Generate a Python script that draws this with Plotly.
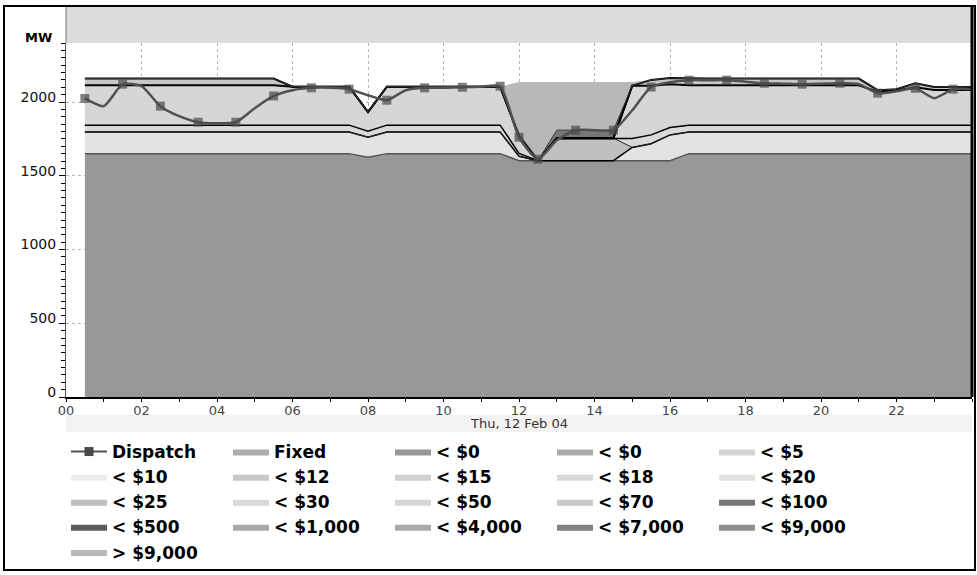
import plotly.graph_objects as go

# ---------------- data ----------------
hours = [0.5, 1.0, 1.5, 2.0, 2.5, 3.0, 3.5, 4.0, 4.5, 5.0, 5.5, 6.0,
         6.5, 7.0, 7.5, 8.0, 8.5, 9.0, 9.5, 10.0, 10.5, 11.0, 11.5, 12.0,
         12.5, 13.0, 13.5, 14.0, 14.5, 15.0, 15.5, 16.0, 16.5, 17.0, 17.5, 18.0,
         18.5, 19.0, 19.5, 20.0, 20.5, 21.0, 21.5, 22.0, 22.5, 23.0, 23.5, 24.0]

dispatch = [2024, 1972, 2121, 2107, 1972, 1904, 1863, 1856, 1863, 1958, 2041, 2080,
            2096, 2097, 2087, 2046, 2012, 2080, 2096, 2097, 2100, 2104, 2107, 1761,
            1612, 1741, 1809, 1809, 1809, 1944, 2102, 2134, 2148, 2148, 2148, 2138,
            2127, 2124, 2121, 2124, 2127, 2121, 2060, 2073, 2093, 2026, 2087, 2087]

marker_hours = [0.5, 1.5, 2.5, 3.5, 4.5, 5.5, 6.5, 7.5, 8.5, 9.5, 10.5, 11.5,
                12.0, 12.5, 13.5, 14.5, 15.5, 16.5, 17.5, 18.5, 19.5, 20.5,
                21.5, 22.5, 23.5]

zero = [0] * 48
fixed = zero
lt0_a = [1650] * 15 + [1626] + [1650] * 7 + [1602] * 9 + [1650] * 16
lt0_b = zero
lt5 = zero
lt10 = zero
lt12 = zero
lt15 = zero
lt18 = zero
lt20 = [147] * 15 + [135] + [147] * 7 + [30] + [0] * 5 + [90, 115, 175] + [147] * 16
lt25 = [0] * 25 + [153] * 4 + [0] * 19
lt30 = [46] * 15 + [41] + [46] * 7 + [20] + [0] * 5 + [60, 60, 50] + [46] * 16
lt50 = ([271] * 11 + [261] * 4 + [129] + [261] * 7 + [118] + [0] * 5
        + [358, 333, 293] + [271] * 10 + [227, 235, 257] + [239] * 3)
lt70 = [45] * 11 + [0] * 19 + [40, 42] + [45] * 10 + [10, 9, 27] + [20] * 3
lt100 = [0] * 25 + [54] * 4 + [0] * 19
lt500 = zero
lt1000 = zero
lt4000 = zero
lt7000 = zero
lt9000 = zero
gt9000 = [0] * 23 + [366, 534] + [327] * 4 + [26] + [0] * 18

band_names = ["Fixed", "< $0", "< $0", "< $5", "< $10", "< $12", "< $15",
              "< $18", "< $20", "< $25", "< $30", "< $50", "< $70", "< $100",
              "< $500", "< $1,000", "< $4,000", "< $7,000", "< $9,000", "> $9,000"]
band_values = [fixed, lt0_a, lt0_b, lt5, lt10, lt12, lt15, lt18, lt20, lt25,
               lt30, lt50, lt70, lt100, lt500, lt1000, lt4000, lt7000, lt9000, gt9000]

x_tick_vals = [0, 2, 4, 6, 8, 10, 12, 14, 16, 18, 20, 22]
x_tick_text = ["00", "02", "04", "06", "08", "10", "12", "14", "16", "18", "20", "22"]
y_tick_vals = [0, 500, 1000, 1500, 2000]
date_label = "Thu, 12 Feb 04"

# ---------------- styles ----------------
band_colors = ["#adadad", "#989898", "#ababab", "#d4d4d4", "#ececec", "#c8c8c8",
               "#d0d0d0", "#d9d9d9", "#e3e3e3", "#bfbfbf", "#d9d9d9", "#d6d6d6",
               "#c8c8c8", "#777777", "#5c5c5c", "#a8a8a8", "#aaaaaa", "#828282",
               "#8e8e8e", "#b8b8b8"]
edge_styles = {1: ("#555555", 1.5), 8: ("#000000", 1.5), 9: ("#222222", 1),
               10: ("#000000", 1.5), 11: ("#000000", 2), 12: ("#000000", 2),
               13: ("#333333", 1)}

FONT = "DejaVu Sans"
W, H = 977, 575
L, R, T, B = 66, 5, 43, 178
PW, PH = W - L - R, H - T - B


def px(x):
    return (x - L) / PW


def py(y):
    return (H - B - y) / PH


fig = go.Figure()

# filled price bands
for i, (name, vals) in enumerate(zip(band_names, band_values)):
    fig.add_trace(go.Scatter(
        x=hours, y=vals, name=name, stackgroup="bands", mode="lines",
        line=dict(width=0, color=band_colors[i]), fillcolor=band_colors[i],
        legendrank=2 + i, hoverinfo="skip"))

# band edge lines
for i, vals in enumerate(band_values):
    col, wd = edge_styles.get(i, ("rgba(0,0,0,0)", 0))
    fig.add_trace(go.Scatter(
        x=hours, y=vals, stackgroup="edges", fill="none", mode="lines",
        line=dict(width=wd, color=col), showlegend=False, hoverinfo="skip"))

# dispatch
sizes = [9 if h in marker_hours else 0 for h in hours]
fig.add_trace(go.Scatter(
    x=hours, y=dispatch, mode="lines+markers", showlegend=False,
    line=dict(color="#505050", width=2.5, shape="spline", smoothing=0.6),
    marker=dict(symbol="square", size=sizes, color="#4a4a4a", line=dict(width=0))))
fig.add_trace(go.Scatter(
    x=[None], y=[None], mode="lines+markers", name="Dispatch", legendrank=1,
    line=dict(color="#505050", width=2),
    marker=dict(symbol="square", size=9, color="#4a4a4a")))

fig.update_layout(
    width=W, height=H,
    margin=dict(l=L, r=R, t=T, b=B, pad=0, autoexpand=False),
    paper_bgcolor="white", plot_bgcolor="white",
    font=dict(family=FONT, color="black"),
    showlegend=True,
    legend=dict(orientation="h", x=0, y=py(434), xanchor="left", yanchor="top",
                font=dict(family=FONT, size=17, color="black", weight="bold"),
                entrywidth=111, entrywidthmode="pixels", itemwidth=36,
                traceorder="normal", bgcolor="rgba(0,0,0,0)", borderwidth=0),
    xaxis=dict(range=[0, 24], tickvals=x_tick_vals, ticktext=x_tick_text,
               showgrid=True, gridcolor="#b4b4b4", griddash="3px,3px", gridwidth=1,
               ticks="outside", ticklen=3, tickcolor="black", ticklabelstandoff=-3,
               showline=True, linecolor="black", linewidth=2, zeroline=False,
               tickfont=dict(family=FONT, size=13, color="#444444"),
               minor=dict(dtick=1, ticks="outside", ticklen=3, tickcolor="black", showgrid=False)),
    yaxis=dict(range=[0, 2400], tickvals=y_tick_vals,
               showgrid=True, gridcolor="#b4b4b4", griddash="3px,3px", gridwidth=1,
               ticks="outside", ticklen=6, tickcolor="black", ticklabelshift=-5,
               showline=True, linecolor="#555555", linewidth=1, zeroline=False,
               tickfont=dict(family=FONT, size=14, color="#111111"),
               minor=dict(dtick=50, ticks="outside", ticklen=4, tickcolor="black", showgrid=False)),
    shapes=[
        dict(type="rect", xref="paper", yref="paper", x0=0, x1=1, y0=1, y1=py(7),
             fillcolor="#dcdcdc", line=dict(width=0)),
        dict(type="line", xref="paper", yref="paper", x0=0, x1=0, y0=1, y1=py(7),
             line=dict(color="#777777", width=1)),
        dict(type="rect", xref="paper", yref="paper", x0=0, x1=1, y0=py(415), y1=py(432),
             fillcolor="#f2f2f2", line=dict(width=0)),
        dict(type="line", xref="paper", yref="paper", x0=1, x1=1, y0=0, y1=py(6),
             line=dict(color="black", width=3)),
        dict(type="rect", xref="paper", yref="paper", x0=px(4), x1=px(975), y0=py(570), y1=py(6),
             line=dict(color="black", width=2)),
    ],
    annotations=[
        dict(text="<b>MW</b>", xref="paper", yref="paper", x=px(38), y=py(38),
             xanchor="center", yanchor="middle",
             showarrow=False, font=dict(family=FONT, size=13, color="black")),
        dict(text=date_label, xref="x", yref="paper", x=12, y=py(423.5),
             xanchor="center", yanchor="middle",
             showarrow=False, font=dict(family=FONT, size=13, color="#333333")),
    ],
)

fig.write_html("out.html", config={"displayModeBar": False},
               post_script="document.body.style.margin='0';document.body.style.overflow='hidden';")
